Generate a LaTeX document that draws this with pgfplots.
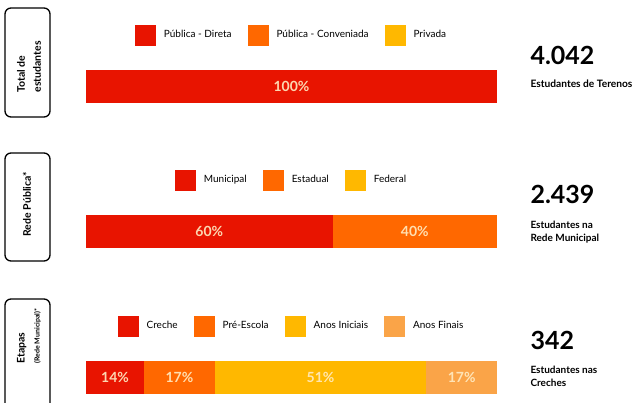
\documentclass[border=0pt]{standalone}
\usepackage{pgfplots}
\pgfplotsset{compat=1.18}
\usepackage{fontspec}
\setmainfont{Lato}

\definecolor{cred}{RGB}{232,20,0}
\definecolor{corange}{RGB}{255,104,0}
\definecolor{cgold}{RGB}{255,184,0}
\definecolor{clight}{RGB}{250,164,72}
\definecolor{clabel}{RGB}{255,236,196}

\pgfplotsset{
  partbar/.style={
    xbar stacked, hide axis, scale only axis,
    width=411pt, height=33pt, bar width=33pt,
    xmin=0, xmax=100, ymin=-0.5, ymax=0.5,
    legend columns=-1,
    legend style={draw=none, fill=none, at={(0.5,2.06)}, anchor=center,
      font=\fontsize{10}{11}\selectfont,
      /tikz/every odd column/.append style={column sep=6pt},
      /tikz/every even column/.append style={column sep=14pt}},
    legend image code/.code={\fill[##1] (0pt,-10.5pt) rectangle (21pt,10.5pt);},
    visualization depends on=rawx \as \rawx,
    /pgf/number format/assume math mode=true,
    nodes near coords={\pgfmathprintnumber{\rawx}\%},
    every node near coord/.append style={anchor=center, text=clabel,
      text opacity=0.9,
      font=\fontsize{14}{15}\selectfont\bfseries},
  }
}

\begin{document}
\begin{tikzpicture}[x=1pt,y=1pt]
\clip (0,0) rectangle (642,403);

% left boxes
\draw[rounded corners=6pt, line width=1.3pt] (5,395) rectangle (50,286);
\node[rotate=90, anchor=west, align=left, font=\fontsize{10.5}{16}\selectfont\bfseries] at (29,307) {Total de\\estudantes};
\draw[rounded corners=6pt, line width=1.3pt] (5,250) rectangle (50,142);
\node[rotate=90, anchor=west, font=\fontsize{10.5}{12}\selectfont\bfseries] at (27,163) {Rede Pública*};
\draw[rounded corners=6pt, line width=1.3pt] (5,104) rectangle (50,-27);
\node[rotate=90, anchor=west, align=left, font=\fontsize{10.5}{15}\selectfont\bfseries] at (29,36) {Etapas\\{\fontsize{7}{8}\selectfont(Rede Municipal)*}};

% bar 1
\begin{axis}[partbar, at={(86pt,300pt)}, anchor=south west]
  \addplot[fill=cred, draw=none] coordinates {(100,0)};
  \addlegendentry{Pública - Direta}
  \addlegendimage{fill=corange, draw=none}
  \addlegendentry{Pública - Conveniada}
  \addlegendimage{fill=cgold, draw=none}
  \addlegendentry{Privada}
\end{axis}

% bar 2
\begin{axis}[partbar, at={(86pt,155pt)}, anchor=south west]
  \addplot[fill=cred, draw=none] coordinates {(60,0)};
  \addlegendentry{Municipal}
  \addplot[fill=corange, draw=none] coordinates {(40,0)};
  \addlegendentry{Estadual}
  \addlegendimage{fill=cgold, draw=none}
  \addlegendentry{Federal}
\end{axis}

% bar 3
\begin{axis}[partbar, xmax=99, at={(86pt,9pt)}, anchor=south west]
  \addplot[fill=cred, draw=none] coordinates {(14,0)};
  \addlegendentry{Creche}
  \addplot[fill=corange, draw=none] coordinates {(17,0)};
  \addlegendentry{Pré-Escola}
  \addplot[fill=cgold, draw=none] coordinates {(51,0)};
  \addlegendentry{Anos Iniciais}
  \addplot[fill=clight, draw=none] coordinates {(17,0)};
  \addlegendentry{Anos Finais}
\end{axis}

% right texts
\node[anchor=west, font=\fontsize{25}{27}\selectfont\bfseries] at (527,348) {4.042};
\node[anchor=west, font=\fontsize{10.2}{11}\selectfont\bfseries] at (527,319) {Estudantes de Terenos};
\node[anchor=west, font=\fontsize{25}{27}\selectfont\bfseries] at (527,209) {2.439};
\node[anchor=west, align=left, font=\fontsize{10}{13}\selectfont\bfseries] at (527,171) {Estudantes na\\Rede Municipal};
\node[anchor=west, font=\fontsize{25}{27}\selectfont\bfseries] at (527,63) {342};
\node[anchor=west, align=left, font=\fontsize{10}{13}\selectfont\bfseries] at (527,27) {Estudantes nas\\Creches};
\end{tikzpicture}
\end{document}
